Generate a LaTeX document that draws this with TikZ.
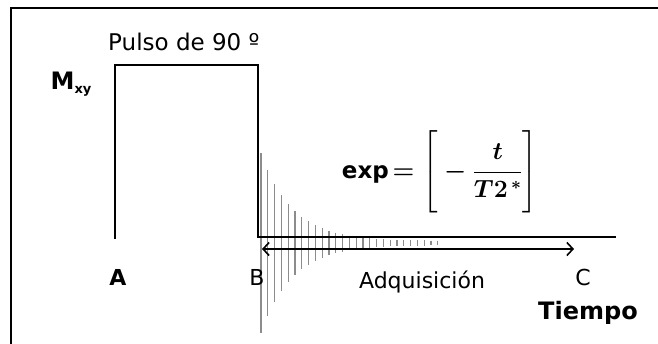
\documentclass[tikz,border=0pt]{standalone}
\usepackage{amsmath, amssymb}
\usepackage{fontspec}
\setmainfont{DejaVu Sans}
\usepackage{tikz}
\usetikzlibrary{positioning, arrows.meta, calc}
\definecolor{sigGray}{HTML}{8C8C8C}
\tikzset{
  every node/.style={font=\fontsize{23}{26}\selectfont, inner sep=1pt},
  lbl/.style={font=\fontsize{22}{26}\selectfont},
  lblB/.style={font=\fontsize{22}{26}\selectfont\bfseries},
  pulse/.style={line width=2.6pt, line cap=rect},
  sig/.style={sigGray, line width=1.3pt},
  acq/.style={{Straight Barb[length=6pt, width=13pt]}-{Straight Barb[length=6pt, width=13pt]}, line width=1.6pt},
}

\begin{document}
\begin{tikzpicture}[x=1pt, y=-1pt]
  \useasboundingbox (0,0) rectangle (658,343);
  % frame
  \draw[line width=1.8pt] (11,345) -- (11,8) -- (660,8);
  % decaying signal
  \foreach \i in {0,...,26} {
    \pgfmathsetmacro{\xx}{261+6.8*\i}
    \pgfmathsetmacro{\amp}{88*exp(-0.215*\i)}
    \draw[sig] (\xx,241-\amp) -- (\xx,245+\amp);
  }
  % pulse and base line
  \coordinate (pA) at (115,238);
  \coordinate (pB) at (258,237);
  \coordinate (pEnd) at (615,237);
  \draw[pulse] (pA) -- (115,65) -- (258,65) -- (pB) -- (pEnd);
  % acquisition window
  \coordinate (acqL) at (262,249);
  \coordinate (acqR) at (574,249);
  \draw[acq] (acqL) -- (acqR);
  % labels
  \node[anchor=base west] (pulso) at (107,50) {Pulso de 90 º};
  \node[font=\fontsize{24}{26}\selectfont\bfseries] (mxy) at (71,84) {M\raisebox{-4pt}{\fontsize{13}{14}\selectfont xy}};
  \node[lblB] (ptA) at (118,277) {A};
  \node[lbl] (ptB) at (257,277) {B};
  \node[lbl] (ptC) at (583,277) {C};
  \node[font=\fontsize{24}{26}\selectfont\bfseries, below=14pt of ptC.south, xshift=5pt] (tiempo) {Tiempo};
  \node[lbl] (adq) at (422,282) {Adquisición};
  \node[font=\fontsize{23}{26}\selectfont\bfseries] (expo) at (440,172)
    {exp\,{\boldmath$=\Bigg[-\dfrac{t}{T2^{\,*}}\Bigg]$}};
\end{tikzpicture}
\end{document}
